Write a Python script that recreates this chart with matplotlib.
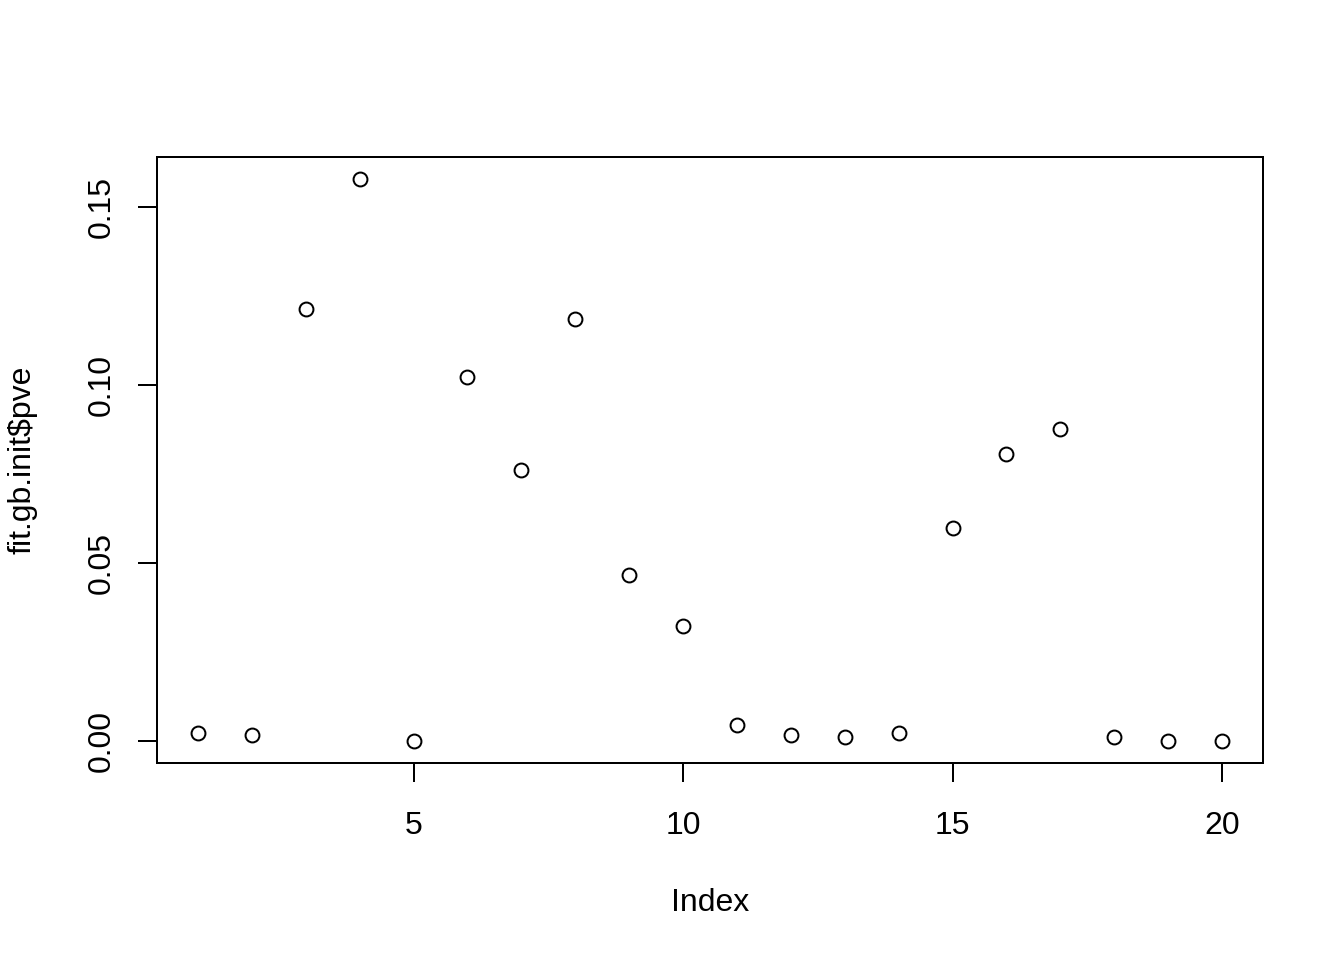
import matplotlib
matplotlib.use("Agg")
import matplotlib.pyplot as plt

plt.rcParams["font.family"] = ["Liberation Sans", "DejaVu Sans"]

# 数据
index = list(range(1, 21))
pve = [0.0020, 0.0017, 0.1213, 0.1576, 0.0000, 0.1022, 0.0761, 0.1183, 0.0466, 0.0323,
       0.0045, 0.0017, 0.0011, 0.0020, 0.0596, 0.0806, 0.0876, 0.0011, 0.0000, 0.0000]
x_ticks = [5, 10, 15, 20]
y_ticks = [0.00, 0.05, 0.10, 0.15]
y_tick_labels = ["0.00", "0.05", "0.10", "0.15"]


def plot_pve():
    fig = plt.figure(figsize=(7, 5), dpi=192)
    ax = fig.add_axes([157 / 1344, 1 - 763 / 960, (1263 - 157) / 1344, (763 - 157) / 960])

    ax.plot(index, pve, linestyle="none", marker="o", markersize=5.2,
            markerfacecolor="none", markeredgecolor="black", markeredgewidth=0.75)

    # R 风格的坐标范围（两端各扩展 4%）
    xr = max(index) - min(index)
    ax.set_xlim(min(index) - 0.04 * xr, max(index) + 0.04 * xr)
    yr = max(pve) - min(pve)
    ax.set_ylim(min(pve) - 0.04 * yr, max(pve) + 0.04 * yr)

    ax.set_xticks(x_ticks)
    ax.set_xticklabels([str(t) for t in x_ticks])
    ax.set_yticks(y_ticks)
    ax.set_yticklabels(y_tick_labels, rotation=90, va="center")

    ax.tick_params(axis="both", length=7, width=0.75, labelsize=12)
    ax.tick_params(axis="x", pad=11)
    ax.tick_params(axis="y", pad=8)
    for s in ax.spines.values():
        s.set_linewidth(0.75)

    ax.set_xlabel("Index", fontsize=12)
    ax.set_ylabel(r"fit.gb.init\$pve", fontsize=12)
    ax.xaxis.set_label_coords(0.5, -0.206)
    ax.yaxis.set_label_coords(-0.108, 0.5)

    fig.savefig("out.png", dpi=192)


if __name__ == "__main__":
    plot_pve()
